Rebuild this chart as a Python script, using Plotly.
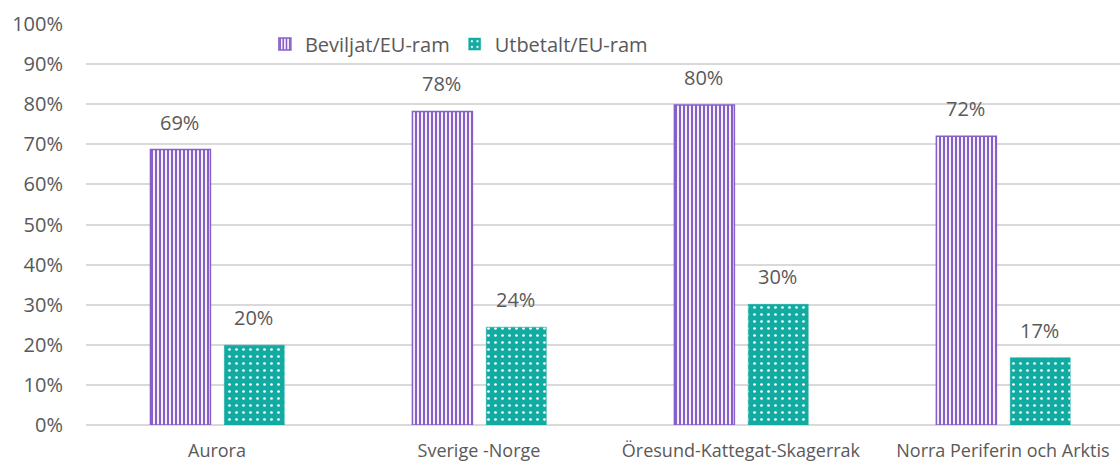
import plotly.graph_objects as go

categories = ["Aurora", "Sverige -Norge", "Öresund-Kattegat-Skagerrak", "Norra Periferin och Arktis"]
beviljat = [0.687, 0.782, 0.798, 0.720]
utbetalt = [0.199, 0.244, 0.301, 0.168]
series_names = ["Beviljat/EU-ram", "Utbetalt/EU-ram"]
tick_vals = [i / 10 for i in range(11)]
tick_text = [f"{i*10}%" for i in range(11)]

PURPLE = "#8660c8"
TEAL = "#12aba2"
TXT = "#595959"
FONT = "Open Sans"

W = 0.229
fig = go.Figure()
fig.add_trace(go.Bar(
    x=categories, y=beviljat, name=series_names[0],
    width=W, offset=-0.254,
    marker=dict(color="white", line=dict(color=PURPLE, width=1.5),
                pattern=dict(shape="|", fgcolor=PURPLE, bgcolor="white",
                             size=4, solidity=0.55, fillmode="replace")),
))
fig.add_trace(go.Bar(
    x=categories, y=utbetalt, name=series_names[1],
    width=W, offset=0.028,
    marker=dict(color=TEAL, line=dict(color=TEAL, width=0.5),
                pattern=dict(shape=".", fgcolor="white", bgcolor=TEAL,
                             size=7, solidity=0.12, fillmode="replace")),
))

annotations = []
for i, c in enumerate(categories):
    for vals, dx in ((beviljat, -37), (utbetalt, 37)):
        annotations.append(dict(
            x=c, y=vals[i], xref="x", yref="y", xshift=dx, yshift=12,
            text=f"{round(vals[i]*100):.0f}%", showarrow=False, yanchor="bottom",
            font=dict(family=FONT, size=20, color=TXT)))

fig.update_layout(
    width=1120, height=461,
    margin=dict(l=86, r=0, t=24, b=36),
    paper_bgcolor="white", plot_bgcolor="white",
    barmode="overlay",
    font=dict(family=FONT, size=18, color=TXT),
    showlegend=True,
    legend=dict(orientation="h", x=0.173, xanchor="left", y=0.95, yanchor="middle",
                font=dict(family=FONT, size=20, color=TXT),
                bgcolor="rgba(255,255,255,0)", itemwidth=30, traceorder="normal"),
    annotations=annotations,
)
fig.update_xaxes(range=[-0.5, 3.447], showgrid=False, showline=False, ticks="",
                 tickfont=dict(family=FONT, size=18, color=TXT), ticklabelstandoff=13)
fig.update_yaxes(range=[0, 1], tickvals=tick_vals, ticktext=tick_text,
                 showgrid=True, gridcolor="#d9d9d9", gridwidth=1.5,
                 zeroline=True, zerolinecolor="#d9d9d9", zerolinewidth=1.5,
                 showline=False, ticks="", ticklabelstandoff=22,
                 tickfont=dict(family=FONT, size=20, color=TXT))

fig.write_html("out.html", config={"displayModeBar": False},
               post_script="document.body.style.margin='0';")
